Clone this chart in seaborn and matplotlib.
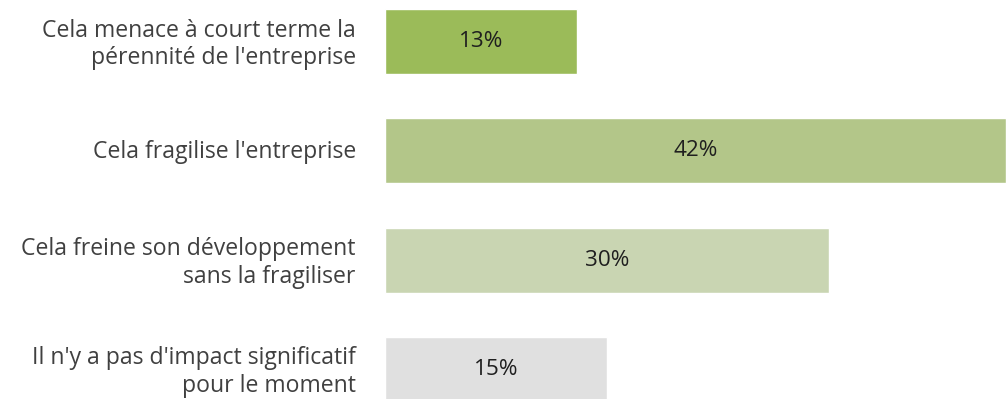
import matplotlib
matplotlib.use("Agg")
import matplotlib.pyplot as plt
import matplotlib.transforms as mtransforms
import seaborn as sns
import pandas as pd

categories = [
    "Cela menace à court terme la\npérennité de l'entreprise",
    "Cela fragilise l'entreprise",
    "Cela freine son développement\nsans la fragiliser",
    "Il n'y a pas d'impact significatif\npour le moment",
]
values = [13, 42, 30, 15]
value_labels = ["13%", "42%", "30%", "15%"]
colors = ["#9BBB59", "#B3C689", "#C9D5B2", "#E0E0E0"]

sns.set_theme(style="white")
plt.rcParams['font.family'] = ['Open Sans', 'DejaVu Sans']

df = pd.DataFrame({"cat": categories, "val": values})

fig = plt.figure(figsize=(10.06, 3.99), dpi=100)
ax = fig.add_axes([385/1006, 0, 1 - 385/1006, 1])
sns.barplot(data=df, y="cat", x="val", hue="cat", palette=colors, orient="h",
            width=0.595, legend=False, ax=ax, saturation=1)

for i, (v, lab) in enumerate(zip(values, value_labels)):
    ax.text(v / 2, i, lab, ha="center", va="center", fontsize=16.2, color="#1f1f1f")

ax.set_xlim(0, 42)
ax.set_ylim(3.27, -0.38)
ax.set_xlabel("")
ax.set_ylabel("")
ax.set_xticks([])
ax.tick_params(axis="y", length=0, pad=21, labelsize=16.6, labelcolor="#404040")
for s in ax.spines.values():
    s.set_visible(False)

fig.canvas.draw()
shift = mtransforms.ScaledTranslation(0, 2 / 100, fig.dpi_scale_trans)
for t in ax.get_yticklabels():
    t.set_linespacing(1.22)
    t.set_transform(t.get_transform() + shift)

fig.savefig("out.png", dpi=100)
